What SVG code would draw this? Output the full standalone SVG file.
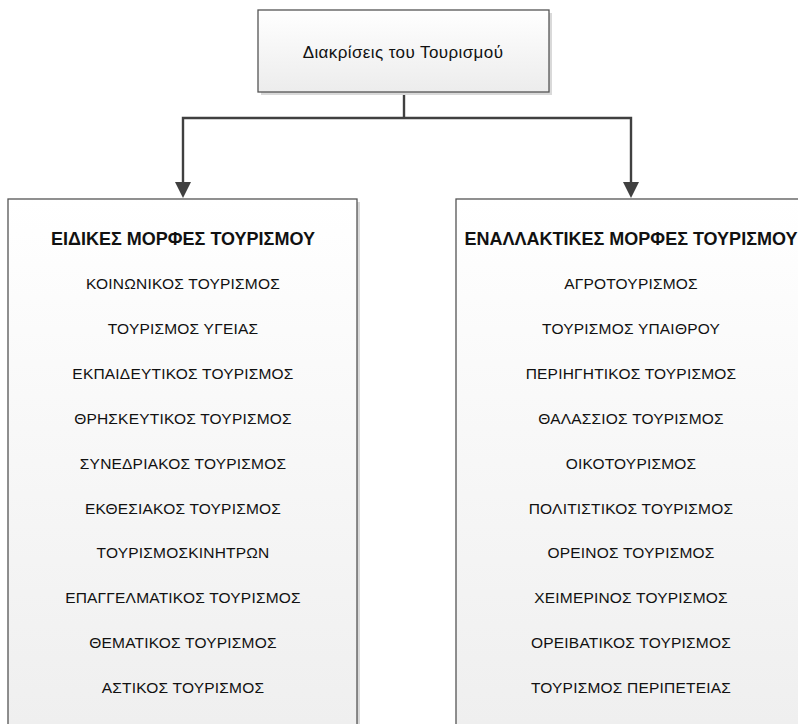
<svg xmlns="http://www.w3.org/2000/svg" width="798" height="724" viewBox="0 0 798 724">
  <style>
    .box { stroke: #555555; stroke-width: 1.3; }
    .shadow { fill: #d9d9d9; }
    .t { font-family: "Liberation Sans", "DejaVu Sans", sans-serif; font-size: 15.5px; letter-spacing: 0.2px; fill: #111111; text-anchor: middle; }
    .top { font-family: "Liberation Sans", "DejaVu Sans", sans-serif; font-size: 17px; letter-spacing: 0.4px; fill: #111111; text-anchor: middle; }
    .h { font-family: "Liberation Sans", "DejaVu Sans", sans-serif; font-size: 18px; font-weight: bold; fill: #111111; text-anchor: middle; }
    .conn { fill: none; stroke: #404040; stroke-width: 2.4; }
    .head { fill: #404040; }
  </style>
  <defs>
    <linearGradient id="fillGrad" x1="0" y1="0" x2="0" y2="1">
      <stop offset="0" stop-color="#ffffff"/>
      <stop offset="1" stop-color="#ececec"/>
    </linearGradient>
    <linearGradient id="fillGradTall" gradientUnits="userSpaceOnUse" x1="0" y1="199" x2="0" y2="724">
      <stop offset="0" stop-color="#ffffff"/>
      <stop offset="1" stop-color="#efefef"/>
    </linearGradient>
  </defs>

  <!-- connectors -->
  <g id="connectors">
    <path class="conn" d="M404,92 V118"/>
    <path class="conn" d="M183,185 V118 H631 V185"/>
    <polygon class="head" points="175,182 191,182 183,198"/>
    <polygon class="head" points="623,182 639,182 631,198"/>
  </g>

  <!-- root node -->
  <g id="root">
    <rect class="shadow" x="261" y="13" width="291" height="82"/>
    <rect class="box" x="258" y="10" width="291" height="82" fill="url(#fillGrad)"/>
    <text class="top" x="403" y="58">Διακρίσεις του Τουρισμού</text>
  </g>

  <!-- special forms -->
  <g id="special">
    <rect class="shadow" x="11" y="202" width="349" height="530"/>
    <rect class="box" x="8" y="199" width="349" height="530" fill="url(#fillGradTall)"/>
    <text class="h" x="183" y="245">ΕΙΔΙΚΕΣ ΜΟΡΦΕΣ ΤΟΥΡΙΣΜΟΥ</text>
    <text class="t" x="183" y="289">ΚΟΙΝΩΝΙΚΟΣ ΤΟΥΡΙΣΜΟΣ</text>
    <text class="t" x="183" y="334">ΤΟΥΡΙΣΜΟΣ ΥΓΕΙΑΣ</text>
    <text class="t" x="183" y="379">ΕΚΠΑΙΔΕΥΤΙΚΟΣ ΤΟΥΡΙΣΜΟΣ</text>
    <text class="t" x="183" y="424">ΘΡΗΣΚΕΥΤΙΚΟΣ ΤΟΥΡΙΣΜΟΣ</text>
    <text class="t" x="183" y="469">ΣΥΝΕΔΡΙΑΚΟΣ ΤΟΥΡΙΣΜΟΣ</text>
    <text class="t" x="183" y="514">ΕΚΘΕΣΙΑΚΟΣ ΤΟΥΡΙΣΜΟΣ</text>
    <text class="t" x="183" y="558">ΤΟΥΡΙΣΜΟΣΚΙΝΗΤΡΩΝ</text>
    <text class="t" x="183" y="603">ΕΠΑΓΓΕΛΜΑΤΙΚΟΣ ΤΟΥΡΙΣΜΟΣ</text>
    <text class="t" x="183" y="648">ΘΕΜΑΤΙΚΟΣ ΤΟΥΡΙΣΜΟΣ</text>
    <text class="t" x="183" y="693">ΑΣΤΙΚΟΣ ΤΟΥΡΙΣΜΟΣ</text>
  </g>

  <!-- alternative forms -->
  <g id="alternative">
    <rect class="shadow" x="459" y="202" width="350" height="530"/>
    <rect class="box" x="456" y="199" width="350" height="530" fill="url(#fillGradTall)"/>
    <text class="h" x="631" y="245">ΕΝΑΛΛΑΚΤΙΚΕΣ ΜΟΡΦΕΣ ΤΟΥΡΙΣΜΟΥ</text>
    <text class="t" x="631" y="289">ΑΓΡΟΤΟΥΡΙΣΜΟΣ</text>
    <text class="t" x="631" y="334">ΤΟΥΡΙΣΜΟΣ ΥΠΑΙΘΡΟΥ</text>
    <text class="t" x="631" y="379">ΠΕΡΙΗΓΗΤΙΚΟΣ ΤΟΥΡΙΣΜΟΣ</text>
    <text class="t" x="631" y="424">ΘΑΛΑΣΣΙΟΣ ΤΟΥΡΙΣΜΟΣ</text>
    <text class="t" x="631" y="469">ΟΙΚΟΤΟΥΡΙΣΜΟΣ</text>
    <text class="t" x="631" y="514">ΠΟΛΙΤΙΣΤΙΚΟΣ ΤΟΥΡΙΣΜΟΣ</text>
    <text class="t" x="631" y="558">ΟΡΕΙΝΟΣ ΤΟΥΡΙΣΜΟΣ</text>
    <text class="t" x="631" y="603">ΧΕΙΜΕΡΙΝΟΣ ΤΟΥΡΙΣΜΟΣ</text>
    <text class="t" x="631" y="648">ΟΡΕΙΒΑΤΙΚΟΣ ΤΟΥΡΙΣΜΟΣ</text>
    <text class="t" x="631" y="693">ΤΟΥΡΙΣΜΟΣ ΠΕΡΙΠΕΤΕΙΑΣ</text>
  </g>
</svg>
